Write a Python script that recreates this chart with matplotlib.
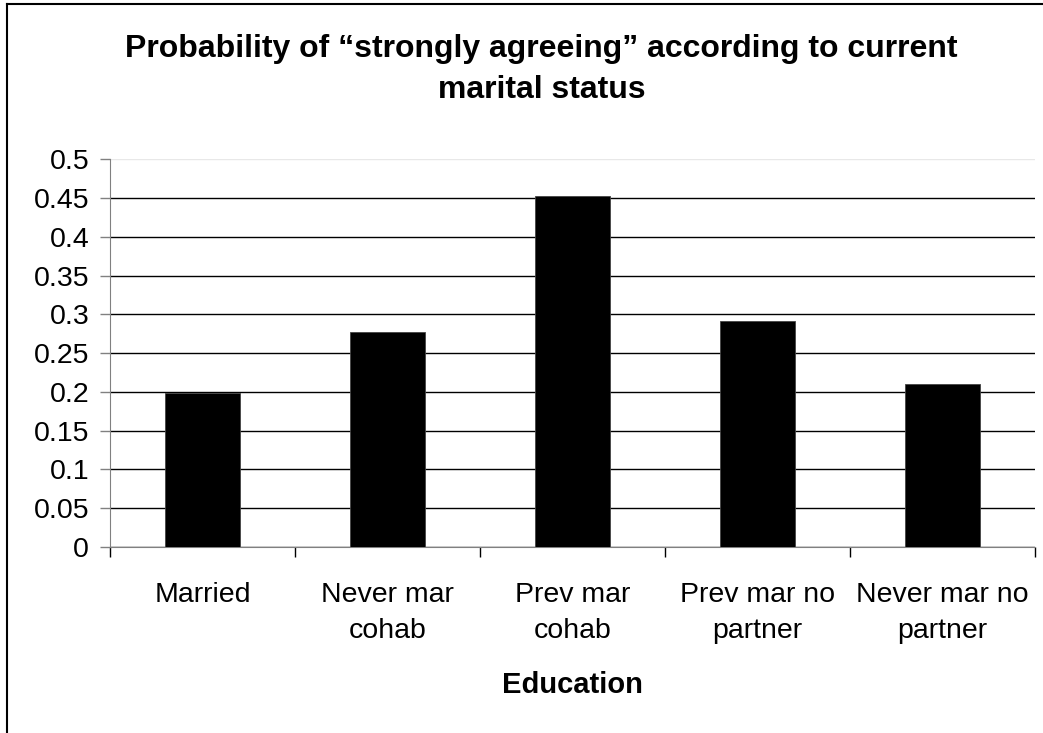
import matplotlib
matplotlib.use("Agg")
from matplotlib import pyplot as plt
from matplotlib.lines import Line2D

# Data
categories = ["Married", "Never mar\ncohab", "Prev mar\ncohab",
              "Prev mar no\npartner", "Never mar no\npartner"]
values = [0.199, 0.277, 0.452, 0.292, 0.210]
yticks = [0, 0.05, 0.1, 0.15, 0.2, 0.25, 0.3, 0.35, 0.4, 0.45, 0.5]
ytick_labels = ["0", "0.05", "0.1", "0.15", "0.2", "0.25", "0.3",
                "0.35", "0.4", "0.45", "0.5"]

plt.rcParams['font.family'] = ['Liberation Sans', 'DejaVu Sans']

fig = plt.figure(figsize=(10.43, 7.33), dpi=100)
ax = fig.add_axes([0.1055, 0.2538, 0.8868, 0.5289])

x = list(range(len(categories)))
ax.bar(x, values, width=0.41, color='black', edgecolor='#444444',
       linewidth=0.6, zorder=3)

ax.set_xlim(-0.5, len(categories) - 0.5)
ax.set_ylim(0, 0.5)
ax.set_yticks(yticks)
ax.set_yticklabels(ytick_labels, fontsize=20.5)
ax.yaxis.grid(True, color='black', linewidth=1.0, zorder=0)
ax.get_ygridlines()[-1].set_color('#e8e8e8')

# category labels at centres, tick marks at boundaries
ax.set_xticks(x)
ax.set_xticklabels(categories, fontsize=20.5, linespacing=1.5)
ax.tick_params(axis='x', length=0, pad=25)
ax.set_xticks([i - 0.5 for i in range(len(categories) + 1)], minor=True)
ax.tick_params(axis='x', which='minor', length=7, width=1, color='black',
               direction='out')
ax.tick_params(axis='y', length=7, width=1, color='#808080', pad=8)

for s in ['top', 'right']:
    ax.spines[s].set_visible(False)
ax.spines['left'].set_color('#808080')
ax.spines['bottom'].set_color('#808080')

ax.set_xlabel("Education", fontsize=21, fontweight='bold', labelpad=20)

fig.text(0.519, 0.954,
         "Probability of \u201cstrongly agreeing\u201d according to current\nmarital status",
         ha='center', va='top', fontsize=23, fontweight='bold',
         linespacing=1.5)

# outer border (top and left only visible)
fig.add_artist(Line2D([0.0067, 0.0067], [0, 0.994], transform=fig.transFigure,
                      color='black', linewidth=1.5))
fig.add_artist(Line2D([0.0067, 1.0], [0.994, 0.994], transform=fig.transFigure,
                      color='black', linewidth=1.5))

fig.savefig("out.png", dpi=100)
